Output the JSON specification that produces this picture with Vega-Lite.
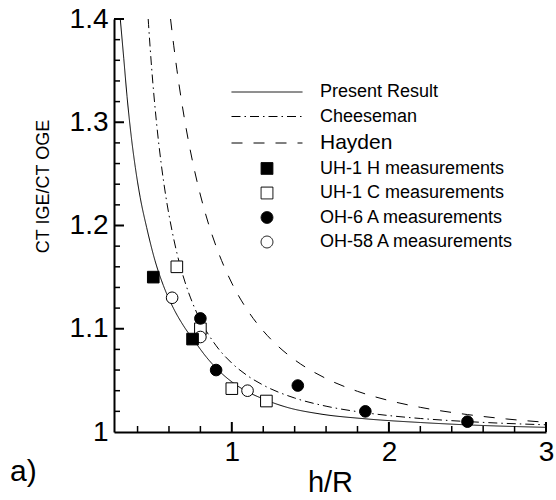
{
  "$schema": "https://vega.github.io/schema/vega-lite/v6.json",
  "width": 432,
  "height": 413,
  "autosize": {"type": "none"},
  "padding": {"left": 114, "top": 19, "right": 10, "bottom": 68},
  "background": "white",
  "title": {"text": "a)", "orient": "bottom", "anchor": "start", "frame": "bounds", "fontSize": 30, "fontWeight": "normal", "font": "Liberation Sans", "color": "black", "offset": -40, "dx": -24},
  "config": {
    "font": "Liberation Sans",
    "view": {"stroke": null},
    "axis": {"grid": false, "domainColor": "black", "labelColor": "black", "titleColor": "black", "labelFont": "Liberation Sans", "titleFont": "Liberation Sans", "titleFontWeight": "normal"},
    "legend": {"orient": "none", "legendX": 144, "legendY": 64, "labelFontSize": 18, "labelFont": "Liberation Sans", "labelColor": "black", "labelLimit": 400, "symbolSize": 140, "symbolStrokeWidth": 1, "symbolStrokeColor": "black", "rowPadding": 6.5, "labelOffset": 44, "padding": 0}
  },
  "layer": [
    {
      "data": {"values": [
        {"series": "Present Result", "x": 0.29, "y": 1.4},
        {"series": "Present Result", "x": 0.312, "y": 1.362},
        {"series": "Present Result", "x": 0.333, "y": 1.325},
        {"series": "Present Result", "x": 0.36, "y": 1.286},
        {"series": "Present Result", "x": 0.386, "y": 1.256},
        {"series": "Present Result", "x": 0.417, "y": 1.227},
        {"series": "Present Result", "x": 0.458, "y": 1.198},
        {"series": "Present Result", "x": 0.511, "y": 1.166},
        {"series": "Present Result", "x": 0.564, "y": 1.142},
        {"series": "Present Result", "x": 0.628, "y": 1.12},
        {"series": "Present Result", "x": 0.692, "y": 1.103},
        {"series": "Present Result", "x": 0.767, "y": 1.087},
        {"series": "Present Result", "x": 0.841, "y": 1.072},
        {"series": "Present Result", "x": 0.927, "y": 1.058},
        {"series": "Present Result", "x": 1.033, "y": 1.045},
        {"series": "Present Result", "x": 1.1, "y": 1.039},
        {"series": "Present Result", "x": 1.2, "y": 1.032},
        {"series": "Present Result", "x": 1.349, "y": 1.024},
        {"series": "Present Result", "x": 1.561, "y": 1.0175},
        {"series": "Present Result", "x": 1.848, "y": 1.0128},
        {"series": "Present Result", "x": 2.2, "y": 1.0092},
        {"series": "Present Result", "x": 2.516, "y": 1.0068},
        {"series": "Present Result", "x": 3.0, "y": 1.0045},
        {"series": "Cheeseman", "x": 0.4677, "y": 1.4},
        {"series": "Cheeseman", "x": 0.47, "y": 1.3946},
        {"series": "Cheeseman", "x": 0.49, "y": 1.3519},
        {"series": "Cheeseman", "x": 0.52, "y": 1.3006},
        {"series": "Cheeseman", "x": 0.55, "y": 1.2604},
        {"series": "Cheeseman", "x": 0.58, "y": 1.2282},
        {"series": "Cheeseman", "x": 0.62, "y": 1.1945},
        {"series": "Cheeseman", "x": 0.65, "y": 1.1736},
        {"series": "Cheeseman", "x": 0.7, "y": 1.1462},
        {"series": "Cheeseman", "x": 0.75, "y": 1.125},
        {"series": "Cheeseman", "x": 0.8, "y": 1.1082},
        {"series": "Cheeseman", "x": 0.9, "y": 1.0836},
        {"series": "Cheeseman", "x": 1.0, "y": 1.0667},
        {"series": "Cheeseman", "x": 1.1, "y": 1.0545},
        {"series": "Cheeseman", "x": 1.2, "y": 1.0454},
        {"series": "Cheeseman", "x": 1.4, "y": 1.0329},
        {"series": "Cheeseman", "x": 1.6, "y": 1.025},
        {"series": "Cheeseman", "x": 1.8, "y": 1.0197},
        {"series": "Cheeseman", "x": 2.0, "y": 1.0159},
        {"series": "Cheeseman", "x": 2.2, "y": 1.0131},
        {"series": "Cheeseman", "x": 2.5, "y": 1.0101},
        {"series": "Cheeseman", "x": 2.75, "y": 1.0083},
        {"series": "Cheeseman", "x": 3.0, "y": 1.007},
        {"series": "Hayden", "x": 0.61, "y": 1.4},
        {"series": "Hayden", "x": 0.63, "y": 1.3746},
        {"series": "Hayden", "x": 0.65, "y": 1.3514},
        {"series": "Hayden", "x": 0.7, "y": 1.302},
        {"series": "Hayden", "x": 0.75, "y": 1.2621},
        {"series": "Hayden", "x": 0.8, "y": 1.2295},
        {"series": "Hayden", "x": 0.85, "y": 1.2024},
        {"series": "Hayden", "x": 0.9, "y": 1.1798},
        {"series": "Hayden", "x": 1.0, "y": 1.1442},
        {"series": "Hayden", "x": 1.1, "y": 1.1179},
        {"series": "Hayden", "x": 1.2, "y": 1.0979},
        {"series": "Hayden", "x": 1.3, "y": 1.0823},
        {"series": "Hayden", "x": 1.4, "y": 1.0699},
        {"series": "Hayden", "x": 1.6, "y": 1.0518},
        {"series": "Hayden", "x": 1.8, "y": 1.0394},
        {"series": "Hayden", "x": 2.0, "y": 1.0305},
        {"series": "Hayden", "x": 2.2, "y": 1.0239},
        {"series": "Hayden", "x": 2.5, "y": 1.0169},
        {"series": "Hayden", "x": 2.75, "y": 1.0126},
        {"series": "Hayden", "x": 3.0, "y": 1.0094}
      ]},
      "mark": {"type": "line", "stroke": "black", "strokeWidth": 1, "interpolate": "monotone", "clip": true},
      "encoding": {
        "x": {"field": "x", "type": "quantitative", "scale": {"domain": [0.25, 3], "nice": false, "zero": false},
          "axis": {"orient": "bottom", "values": [1, 2, 3], "format": "~g", "title": "h/R", "titleFontSize": 29, "labelFontSize": 28, "ticks": false, "domainWidth": 2, "labelPadding": 6, "labelFlush": false, "labelOverlap": false, "titlePadding": 2}},
        "y": {"field": "y", "type": "quantitative", "scale": {"domain": [1, 1.4], "nice": false, "zero": false},
          "axis": {"orient": "left", "values": [1, 1.1, 1.2, 1.3, 1.4], "format": "~g", "title": "CT IGE/CT OGE", "titleFontSize": 18, "titleX": -62, "titleY": 167, "labelFontSize": 28, "ticks": false, "domainWidth": 2, "labelPadding": 6, "labelOverlap": false}},
        "strokeDash": {"field": "series", "type": "nominal",
          "scale": {"domain": ["Present Result", "Cheeseman", "Hayden", "UH-1 H measurements", "UH-1 C measurements", "OH-6 A measurements", "OH-58 A measurements"],
                    "range": [[1, 0], [9, 4, 1.5, 4], [11, 11], [1, 0], [1, 0], [1, 0], [1, 0]]},
          "legend": {"title": null, "labelLimit": 400, "encode": {"symbols": {"update": {"stroke": {"value": "black"}, "strokeWidth": {"value": 1}}}, "labels": {"update": {"fontSize": {"signal": "datum.value === 'Hayden' ? 21 : 18"}}}}}}
      }
    },
    {
      "data": {"values": [{"v": 1.1}, {"v": 1.2}, {"v": 1.3}, {"v": 1.4}]},
      "mark": {"type": "tick", "orient": "horizontal", "size": 10, "thickness": 2, "color": "black", "opacity": 1, "xOffset": 5},
      "encoding": {
        "y": {"field": "v", "type": "quantitative"},
        "x": {"datum": 0.25, "type": "quantitative"}
      }
    },
    {
      "data": {"values": [{"v": 1.02}, {"v": 1.04}, {"v": 1.06}, {"v": 1.08}, {"v": 1.12}, {"v": 1.14}, {"v": 1.16}, {"v": 1.18}, {"v": 1.22}, {"v": 1.24}, {"v": 1.26}, {"v": 1.28}, {"v": 1.32}, {"v": 1.34}, {"v": 1.36}, {"v": 1.38}]},
      "mark": {"type": "tick", "orient": "horizontal", "size": 6, "thickness": 1.5, "color": "black", "opacity": 1, "xOffset": 3},
      "encoding": {
        "y": {"field": "v", "type": "quantitative"},
        "x": {"datum": 0.25, "type": "quantitative"}
      }
    },
    {
      "data": {"values": [{"v": 1}, {"v": 2}, {"v": 3}]},
      "mark": {"type": "tick", "orient": "vertical", "size": 10, "thickness": 2, "color": "black", "opacity": 1, "yOffset": -5},
      "encoding": {
        "x": {"field": "v", "type": "quantitative"},
        "y": {"datum": 1, "type": "quantitative"}
      }
    },
    {
      "data": {"values": [{"v": 0.4}, {"v": 0.6}, {"v": 0.8}, {"v": 1.2}, {"v": 1.4}, {"v": 1.6}, {"v": 1.8}, {"v": 2.2}, {"v": 2.4}, {"v": 2.6}, {"v": 2.8}]},
      "mark": {"type": "tick", "orient": "vertical", "size": 6, "thickness": 1.5, "color": "black", "opacity": 1, "yOffset": -3},
      "encoding": {
        "x": {"field": "v", "type": "quantitative"},
        "y": {"datum": 1, "type": "quantitative"}
      }
    },
    {
      "data": {"values": [
        {"series": "UH-1 C measurements", "x": 0.65, "y": 1.16},
        {"series": "UH-1 C measurements", "x": 0.8, "y": 1.1},
        {"series": "UH-1 C measurements", "x": 1.0, "y": 1.042},
        {"series": "UH-1 C measurements", "x": 1.22, "y": 1.03},
        {"series": "OH-58 A measurements", "x": 0.62, "y": 1.13},
        {"series": "OH-58 A measurements", "x": 0.8, "y": 1.092},
        {"series": "OH-58 A measurements", "x": 1.1, "y": 1.04},
        {"series": "OH-6 A measurements", "x": 0.8, "y": 1.11},
        {"series": "OH-6 A measurements", "x": 0.9, "y": 1.06},
        {"series": "OH-6 A measurements", "x": 1.42, "y": 1.045},
        {"series": "OH-6 A measurements", "x": 1.85, "y": 1.02},
        {"series": "OH-6 A measurements", "x": 2.5, "y": 1.01},
        {"series": "UH-1 H measurements", "x": 0.5, "y": 1.15},
        {"series": "UH-1 H measurements", "x": 0.75, "y": 1.09}
      ]},
      "mark": {"type": "point", "filled": true, "stroke": "black", "strokeWidth": 1, "size": 135, "opacity": 1},
      "encoding": {
        "x": {"field": "x", "type": "quantitative"},
        "y": {"field": "y", "type": "quantitative"},
        "shape": {"field": "series", "type": "nominal",
          "scale": {"domain": ["Present Result", "Cheeseman", "Hayden", "UH-1 H measurements", "UH-1 C measurements", "OH-6 A measurements", "OH-58 A measurements"],
                    "range": ["M-6,0H6", "M-6,0H6", "M-6,0H6", "square", "square", "circle", "circle"]},
          "legend": {"title": null, "labelLimit": 400, "encode": {"symbols": {"update": {"stroke": {"value": "black"}, "strokeWidth": {"value": 1}}}, "labels": {"update": {"fontSize": {"signal": "datum.value === 'Hayden' ? 21 : 18"}}}}}},
        "fill": {"field": "series", "type": "nominal",
          "scale": {"domain": ["Present Result", "Cheeseman", "Hayden", "UH-1 H measurements", "UH-1 C measurements", "OH-6 A measurements", "OH-58 A measurements"],
                    "range": ["transparent", "transparent", "transparent", "black", "white", "black", "white"]},
          "legend": {"title": null, "labelLimit": 400, "encode": {"symbols": {"update": {"stroke": {"value": "black"}, "strokeWidth": {"value": 1}}}, "labels": {"update": {"fontSize": {"signal": "datum.value === 'Hayden' ? 21 : 18"}}}}}}
      }
    }
  ]
}
